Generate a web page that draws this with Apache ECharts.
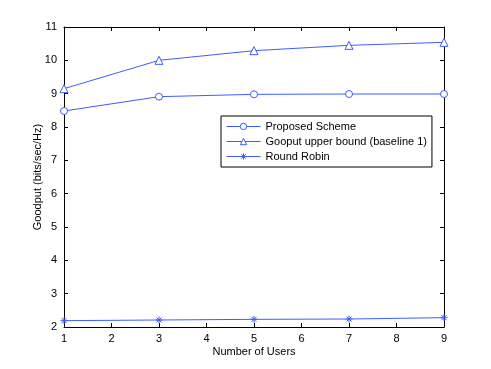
<!DOCTYPE html>
<html>
<head>
<meta charset="utf-8">
<script src="https://cdn.jsdelivr.net/npm/echarts@6/dist/echarts.min.js"></script>
<style>
  html, body { margin: 0; padding: 0; background: #fff; }
  #chart { width: 491px; height: 369px; }
</style>
</head>
<body>
<div id="chart"></div>
<script>
// number of users
const users = [1, 3, 5, 7, 9];
// goodput values (bits/sec/Hz)
const proposed = [8.48, 8.91, 8.98, 8.99, 8.99];
const upperBound = [9.15, 10.0, 10.29, 10.45, 10.54];
const roundRobin = [2.19, 2.21, 2.23, 2.24, 2.28];

const lineColor = '#3f5bff';
const font = 'Liberation Sans, Arial, sans-serif';
const star = 'path://M0,-5L0,5M-5,0L5,0M-3.5,-3.5L3.5,3.5M-3.5,3.5L3.5,-3.5';

function pairs(vals) {
  return users.map((u, i) => [u, vals[i]]);
}

const chart = echarts.init(document.getElementById('chart'));

const axisBase = {
  axisLine: { show: true, onZero: false, lineStyle: { color: '#000', width: 1 } },
  axisTick: { show: true, inside: true, length: 4, lineStyle: { color: '#000' } },
  splitLine: { show: false }
};

chart.setOption({
  animation: false,
  grid: { left: 64, top: 27, right: 47, bottom: 42 },
  xAxis: [
    Object.assign({
      type: 'value', min: 1, max: 9, interval: 1,
      name: 'Number of Users', nameLocation: 'middle', nameGap: 19,
      nameMoveOverlap: false,
      nameTextStyle: { fontFamily: font, fontSize: 11, color: '#000' },
      axisLabel: { fontFamily: font, fontSize: 11, color: '#000', margin: 6 }
    }, axisBase),
    Object.assign({
      type: 'value', min: 1, max: 9, interval: 1, position: 'top',
      axisLabel: { show: false }
    }, axisBase)
  ],
  yAxis: [
    Object.assign({
      type: 'value', min: 2, max: 11, interval: 1,
      name: 'Goodput (bits/sec/Hz)', nameLocation: 'middle', nameGap: 21,
      nameMoveOverlap: false,
      nameTextStyle: { fontFamily: font, fontSize: 11, color: '#000' },
      axisLabel: { fontFamily: font, fontSize: 11, color: '#000', margin: 7 }
    }, axisBase),
    Object.assign({
      type: 'value', min: 2, max: 11, interval: 1, position: 'right',
      axisLabel: { show: false }
    }, axisBase)
  ],
  legend: {
    left: 221, top: 116,
    orient: 'vertical',
    itemWidth: 34, itemHeight: 8, itemGap: 4,
    padding: [5, 5, 5, 5],
    borderColor: '#000', borderWidth: 1, borderRadius: 0,
    backgroundColor: '#fff',
    lineStyle: { width: 1 },
    itemStyle: { borderWidth: 1 },
    textStyle: { fontFamily: font, fontSize: 11, color: '#000' },
    data: ['Proposed Scheme', 'Gooput upper bound (baseline 1)', 'Round Robin']
  },
  series: [
    {
      name: 'Proposed Scheme', type: 'line', data: pairs(proposed),
      symbol: 'circle', symbolSize: 7,
      lineStyle: { color: lineColor, width: 1 },
      itemStyle: { color: '#fff', borderColor: lineColor, borderWidth: 1 }
    },
    {
      name: 'Gooput upper bound (baseline 1)', type: 'line', data: pairs(upperBound),
      symbol: 'triangle', symbolSize: 8,
      lineStyle: { color: lineColor, width: 1 },
      itemStyle: { color: '#fff', borderColor: lineColor, borderWidth: 1 }
    },
    {
      name: 'Round Robin', type: 'line', data: pairs(roundRobin),
      symbol: star, symbolSize: 7,
      lineStyle: { color: lineColor, width: 1 },
      itemStyle: { color: lineColor, borderColor: lineColor, borderWidth: 1 }
    }
  ]
});
</script>
</body>
</html>
